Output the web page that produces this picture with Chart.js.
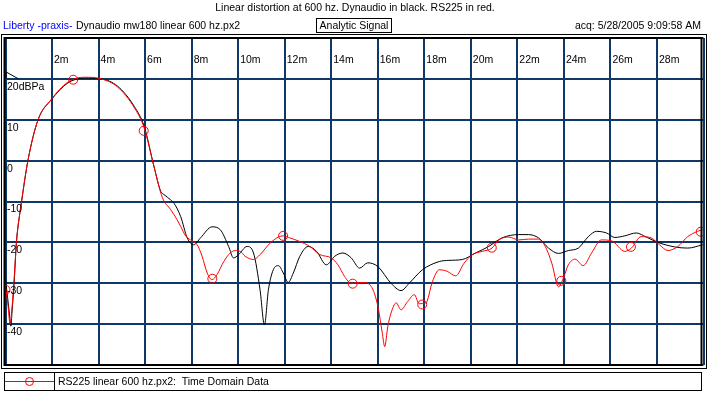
<!DOCTYPE html>
<html>
<head>
<meta charset="utf-8">
<script src="https://cdn.jsdelivr.net/npm/chart.js@4"></script>
<style>
  body { margin: 0; background: #fff; }
  canvas { display: block; }
</style>
</head>
<body>
<canvas id="distChart" width="709" height="395"></canvas>
<script>
// time in ms, level in dBPa
const dynTime = [0.0, 0.16, 0.23, 0.28, 0.37, 0.47, 0.62, 0.69, 0.97, 1.4, 1.97, 2.68, 3.39, 4.11, 4.82, 5.53, 5.96, 6.38, 6.67, 6.81, 7.1, 7.24, 7.53, 7.81, 8.09, 8.38, 8.88, 9.23, 9.59, 9.8, 10.02, 10.38, 10.66, 10.94, 11.13, 11.3, 11.51, 11.73, 11.94, 12.15, 12.37, 12.65, 13.01, 13.37, 13.79, 14.15, 14.5, 14.86, 15.22, 15.57, 16.0, 16.57, 17.0, 17.35, 17.92, 18.64, 19.06, 19.63, 20.2, 20.77, 21.34, 22.06, 22.48, 22.91, 23.34, 23.77, 24.19, 24.62, 25.05, 25.4, 25.83, 26.19, 26.62, 27.11, 27.54, 28.04, 28.75, 29.32, 29.96];
const dynLevel = [-29, -37, -40.5, -37, -30, -20, -12.7, -10, 0.2, 10, 14.9, 19, 20.2, 20, 18.2, 13.3, 8.4, -1.4, -7.5, -8.3, -9.6, -10.4, -13.7, -18.9, -20.6, -18.9, -16.2, -16.9, -21, -23.8, -23, -21, -22.6, -31.6, -40.2, -31.6, -26.7, -25.7, -27.5, -29.8, -27.5, -23.4, -21, -22.2, -25.5, -23.4, -22.6, -23.8, -26.3, -25, -25.9, -30, -31.8, -30, -26.7, -24.7, -24.4, -24.2, -22.6, -21, -18.9, -18.1, -18.1, -18.9, -21.4, -22.7, -22, -21.4, -18.6, -17.3, -17.7, -18.8, -18.4, -17.7, -18.7, -20, -21.1, -21.4, -20.6];

const rsTime = [0.0, 0.1, 0.2, 0.28, 0.37, 0.47, 0.69, 0.97, 1.4, 1.97, 2.68, 3.39, 4.11, 4.82, 5.53, 5.96, 6.38, 6.74, 7.1, 7.38, 7.53, 7.74, 7.95, 8.24, 8.45, 8.67, 8.88, 9.09, 9.38, 9.66, 9.88, 10.09, 10.3, 10.66, 10.94, 11.37, 11.73, 11.94, 12.22, 12.65, 13.08, 13.51, 14.0, 14.29, 14.57, 14.86, 15.36, 15.72, 16.0, 16.19, 16.3, 16.43, 16.57, 16.79, 17.0, 17.28, 17.57, 17.78, 18.07, 18.35, 18.64, 18.99, 19.35, 19.71, 20.06, 20.49, 20.91, 21.2, 21.63, 22.06, 22.48, 22.91, 23.2, 23.48, 23.77, 23.98, 24.19, 24.48, 24.83, 25.19, 25.61, 26.04, 26.62, 26.9, 27.32, 27.75, 28.11, 28.47, 28.9, 29.32, 29.75, 29.96];
const rsLevel = [-31, -35, -40, -36, -29, -20, -10, 0.2, 10, 15, 19.2, 20.4, 20, 18, 13, 8, -1.4, -9, -12, -14.5, -16.1, -18.4, -19.4, -20.6, -23.4, -27.5, -29.1, -27.9, -24.7, -22.6, -22, -22.2, -23.4, -24.2, -23, -20.2, -18.7, -18.4, -18.9, -19.8, -21, -23, -23.8, -25.5, -28.3, -30, -29.8, -30.8, -35.5, -42, -45.5, -40.6, -37.3, -34.8, -36.5, -34.5, -32.8, -35, -34.8, -29.6, -26.7, -27.1, -28.2, -25.1, -23, -22.2, -21.4, -19.4, -18.7, -19.4, -19.2, -19.2, -21, -25.1, -30.9, -28.7, -25.5, -24.1, -25.7, -22.6, -19.4, -19.6, -22.2, -21.4, -18.6, -18.9, -20.6, -22, -21, -18.6, -17.3, -16.9];

const markTime = [0, 2.91, 5.94, 8.89, 11.93, 14.92, 17.91, 20.9, 23.89, 26.88, 29.88];
const markLevel = [-31.6, 19.8, 7.3, -28.9, -18.4, -30.1, -35.2, -21.3, -29.4, -21.1, -17.4];

const xTickValues = [2, 4, 6, 8, 10, 12, 14, 16, 18, 20, 22, 24, 26, 28];
const xTickLabels = ['2m', '4m', '6m', '8m', '10m', '12m', '14m', '16m', '18m', '20m', '22m', '24m', '26m', '28m'];
const yTickValues = [20, 10, 0, -10, -20, -30, -40];
const yTickLabels = ['20dBPa', '10', '0', '-10', '-20', '-30', '-40'];

const toPoints = (xs, ys) => xs.map((x, i) => ({ x: x, y: ys[i] }));

const FONT = '10.5px "Liberation Sans", Arial, sans-serif';

const decorations = {
    id: 'decorations',
    afterDraw(chart) {
        const ctx = chart.ctx;
        const a = chart.chartArea;
        const xs = chart.scales.x;
        const ys = chart.scales.y;
        ctx.save();
        ctx.font = FONT;
        ctx.textBaseline = 'middle';

        // header
        ctx.fillStyle = '#000';
        ctx.textAlign = 'center';
        ctx.fillText('Linear distortion at 600 hz. Dynaudio in black. RS225 in red.', 355, 8);
        ctx.textAlign = 'left';
        ctx.fillStyle = '#0000ff';
        ctx.fillText('Liberty -praxis-', 3, 26);
        ctx.fillStyle = '#000';
        ctx.fillText('Dynaudio mw180 linear 600 hz.px2', 76, 26);
        ctx.textAlign = 'center';
        ctx.fillText('Analytic Signal', 354, 26);
        ctx.lineWidth = 1;
        ctx.strokeStyle = '#000';
        ctx.strokeRect(316.5, 18.5, 75, 14);
        ctx.textAlign = 'right';
        ctx.fillText('acq: 5/28/2005 9:09:58 AM', 701, 26);

        // frames
        ctx.lineWidth = 2;
        ctx.strokeRect(a.left - 1, a.top, a.right - a.left - 1, a.bottom - a.top);
        ctx.lineWidth = 1;
        ctx.strokeRect(1.5, 34.5, 705, 334);

        // tick labels inside the plot
        ctx.textAlign = 'left';
        xTickValues.forEach((v, i) => {
            ctx.fillText(xTickLabels[i], xs.getPixelForValue(v) + 2, 60);
        });
        yTickValues.forEach((v, i) => {
            ctx.fillText(yTickLabels[i], 7, ys.getPixelForValue(v) + 8);
        });

        // reference level marker
        const y20 = ys.getPixelForValue(20);
        ctx.beginPath();
        ctx.moveTo(a.left + 0.5, y20 - 7);
        ctx.lineTo(a.left + 13, y20);
        ctx.moveTo(a.left + 0.5, y20 - 7);
        ctx.lineTo(a.left + 0.5, y20);
        ctx.stroke();

        // legend
        ctx.strokeRect(4.5, 372.5, 697, 18);
        ctx.beginPath();
        ctx.moveTo(54.5, 372.5);
        ctx.lineTo(54.5, 390.5);
        ctx.stroke();
        ctx.strokeStyle = '#ff0000';
        ctx.beginPath();
        ctx.moveTo(5, 381.5);
        ctx.lineTo(54, 381.5);
        ctx.stroke();
        ctx.beginPath();
        ctx.arc(29.5, 381.5, 4, 0, Math.PI * 2);
        ctx.stroke();
        ctx.fillStyle = '#000';
        ctx.fillText('RS225 linear 600 hz.px2:  Time Domain Data', 58, 382);
        ctx.restore();
    }
};

new Chart(document.getElementById('distChart'), {
    type: 'line',
    data: {
        datasets: [
            {
                label: 'RS225 markers',
                data: toPoints(markTime, markLevel),
                showLine: false,
                pointRadius: 4.5,
                pointBorderWidth: 1,
                pointBorderColor: '#ff0000',
                pointBackgroundColor: 'rgba(0,0,0,0)',
                order: 0
            },
            {
                label: 'RS225',
                data: toPoints(rsTime, rsLevel),
                borderColor: '#ff0000',
                borderWidth: 1,
                pointRadius: 0,
                cubicInterpolationMode: 'monotone',
                order: 1
            },
            {
                label: 'Dynaudio',
                data: toPoints(dynTime, dynLevel),
                borderColor: '#000000',
                borderWidth: 1,
                pointRadius: 0,
                cubicInterpolationMode: 'monotone',
                order: 2
            }
        ]
    },
    options: {
        responsive: false,
        animation: false,
        layout: {
            padding: { left: 4, right: 3, top: 38, bottom: 30 }
        },
        scales: {
            x: {
                type: 'linear',
                min: 0,
                max: 30,
                ticks: { display: false, stepSize: 2 },
                grid: { color: '#0d3868', lineWidth: 2, drawTicks: false },
                border: { display: false }
            },
            y: {
                min: -50,
                max: 30,
                ticks: { display: false, stepSize: 10 },
                grid: { color: '#0d3868', lineWidth: 2, drawTicks: false },
                border: { display: false }
            }
        },
        plugins: {
            legend: { display: false },
            tooltip: { enabled: false }
        }
    },
    plugins: [decorations]
});
</script>
</body>
</html>
